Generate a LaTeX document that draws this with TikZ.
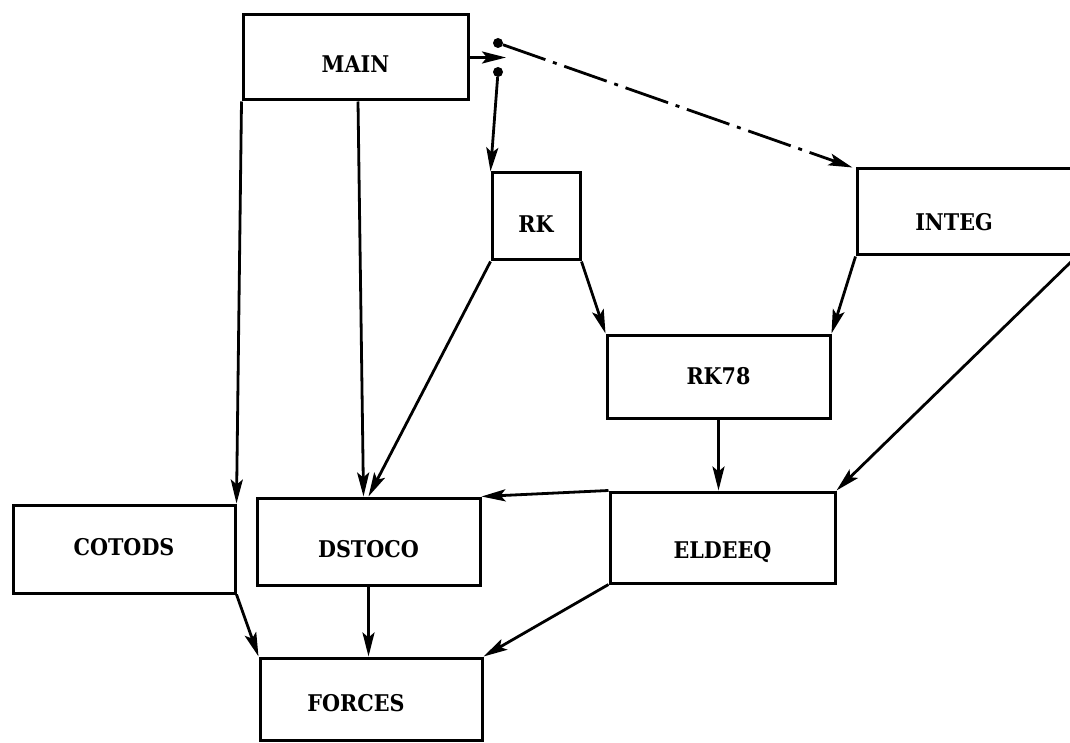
\documentclass[tikz,border=0pt]{standalone}
\usepackage{fontspec}
\newfontfamily\boxfont{DejaVu Serif Condensed}
\usetikzlibrary{arrows.meta}
\begin{document}
\begin{tikzpicture}[x=1pt,y=-1pt,
  box/.style={draw, line width=3pt, rectangle, inner sep=0pt, text depth=0pt, font=\fontsize{23}{26}\selectfont\boxfont\bfseries},
  arr/.style={line width=2.8pt, -{Stealth[length=24pt,width=12pt,inset=5pt]}},
  dashpat/.style={dash pattern=on 45pt off 8pt on 4pt off 8pt},
  dot/.style={circle, fill, inner sep=0pt, minimum size=10pt}]
\useasboundingbox (0,0) rectangle (1070,743);
% boxes
\node[box, minimum width=225pt, minimum height=85pt, text height=31pt] (main) at (355.5,57.5) {MAIN};
\node[box, minimum width=88pt, minimum height=87pt, text height=33pt] (rk) at (536,216.5) {RK};
\node[box, minimum width=218pt, minimum height=86pt, text height=38pt] (integ) at (966,212) {\hspace*{-24pt}INTEG};
\node[box, minimum width=223pt, minimum height=83pt, text height=16pt] (rk78) at (718.5,376.5) {RK78};
\node[box, minimum width=222pt, minimum height=88pt, text height=12pt] (cotods) at (124,549) {COTODS};
\node[box, minimum width=223pt, minimum height=87pt, text height=31pt] (dstoco) at (368.5,541.5) {DSTOCO};
\node[box, minimum width=225pt, minimum height=91pt, text height=41pt] (eldeeq) at (722.5,537.5) {ELDEEQ};
\node[box, minimum width=222pt, minimum height=82pt, text height=24pt] (forces) at (371,699) {\hspace*{-30pt}FORCES};
% split point after MAIN
\coordinate (split) at (506,57.5);
\node[dot] (d1) at (498,43) {};
\node[dot] (d2) at (498,72) {};
% connectors
\draw[arr] (main.east) -- (split);
\draw[arr, dashpat] (d1) -- ([xshift=-3pt]integ.north west);
\draw[arr] (d2) -- (rk.north west);
\draw[arr] ([xshift=2.5pt]main.south) -- ([xshift=-5pt]dstoco.north);
\draw[arr] (main.south west) -- (cotods.north east);
\draw[arr] (rk.south west) -- (dstoco.north);
\draw[arr] (rk.south east) -- (rk78.north west);
\draw[arr] (integ.south west) -- (rk78.north east);
\draw[arr] (integ.south east) -- (eldeeq.north east);
\draw[arr] (rk78.south) -- (rk78.south |- eldeeq.north);
\draw[arr] (eldeeq.north west) -- (dstoco.north east);
\draw[arr] (eldeeq.south west) -- (forces.north east);
\draw[arr] (dstoco.south) -- (dstoco.south |- forces.north);
\draw[arr] (cotods.south east) -- (forces.north west);
\end{tikzpicture}
\end{document}
